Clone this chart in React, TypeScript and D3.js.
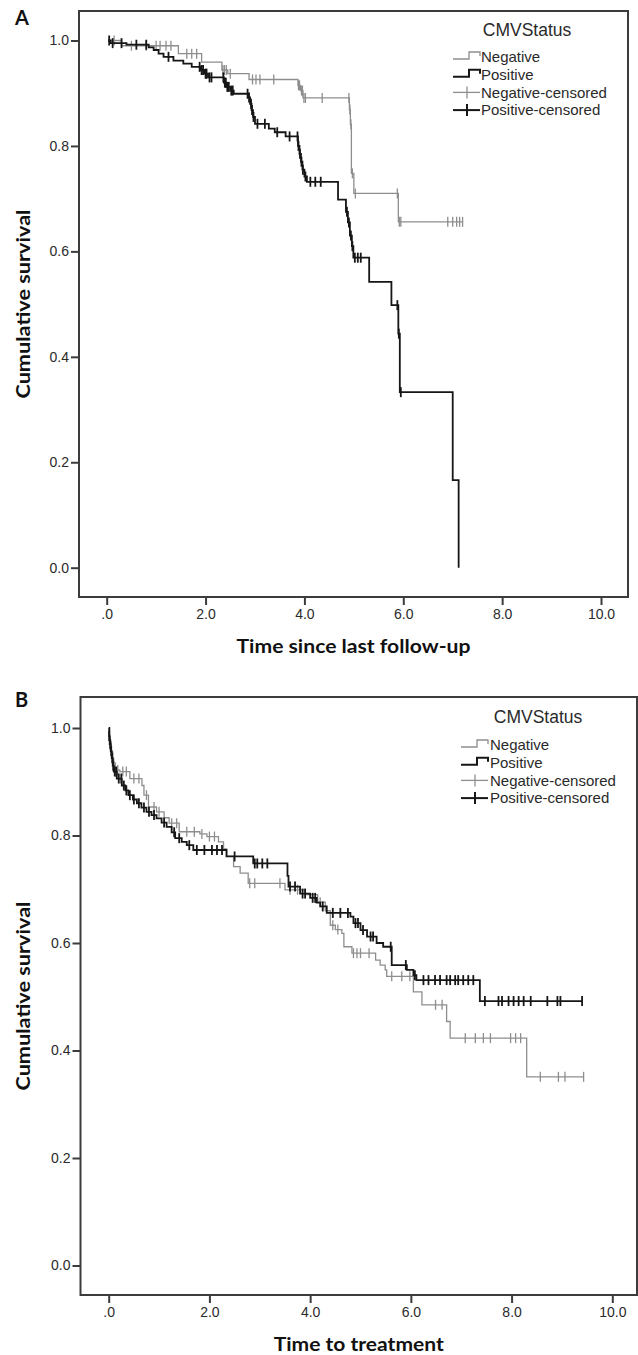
import React, { useEffect, useRef } from 'react';
import * as d3 from 'd3';

// axis ticks
const timeTicks = [0, 2, 4, 6, 8, 10];
const timeTickLabels = ['.0', '2.0', '4.0', '6.0', '8.0', '10.0'];
const survTicks = [0, 0.2, 0.4, 0.6, 0.8, 1.0];
const survTickLabels = ['0.0', '0.2', '0.4', '0.6', '0.8', '1.0'];
const legendTitle = 'CMVStatus';
const legendLabels = ['Negative', 'Positive', 'Negative-censored', 'Positive-censored'];

// panel A: time since last follow-up
const aNegTimes = [0.3, 1.45, 1.92, 2.33, 2.45, 2.88, 3.87, 3.92, 3.97, 4.91, 4.93, 4.95, 5.0, 5.9];
const aNegSurv = [0.99, 0.975, 0.959, 0.944, 0.937, 0.926, 0.915, 0.905, 0.891, 0.869, 0.841, 0.748, 0.71, 0.656];
const aNegCensored = [0.15, 0.5, 0.8, 1.0, 1.08, 1.2, 1.3, 1.62, 1.72, 1.82, 2.35, 2.38, 2.42, 2.5, 2.95, 3.02, 3.1,
  3.38, 3.88, 3.9, 3.94, 3.96, 3.99, 4.02, 4.36, 4.9, 4.92, 4.94, 4.97, 5.03, 5.88, 5.92, 5.95, 6.9, 7.0, 7.08, 7.14, 7.2];
const aPosTimes = [0.08, 0.4, 0.85, 0.95, 1.05, 1.15, 1.35, 1.55, 1.72, 1.9, 1.98, 2.05, 2.37, 2.42, 2.5, 2.57, 2.86, 2.9,
  2.93, 2.96, 3.0, 3.28, 3.4, 3.62, 3.87, 3.9, 3.93, 3.96, 4.0, 4.05, 4.68, 4.84, 4.88, 4.92, 4.96, 4.99, 5.31, 5.76, 5.9,
  5.93, 7.0, 7.12];
const aPosSurv = [0.995, 0.992, 0.987, 0.982, 0.975, 0.969, 0.962, 0.956, 0.95, 0.944, 0.937, 0.93, 0.92, 0.912, 0.905,
  0.899, 0.892, 0.88, 0.868, 0.855, 0.842, 0.833, 0.826, 0.818, 0.8, 0.785, 0.77, 0.755, 0.742, 0.732, 0.698, 0.675, 0.655,
  0.63, 0.61, 0.588, 0.542, 0.498, 0.444, 0.333, 0.166, 0.0];
const aPosCensored = [0.05, 0.12, 0.3, 0.6, 0.8, 1.25, 1.88, 1.92, 1.95, 2.0, 2.02, 2.08, 2.12, 2.36, 2.39, 2.41, 2.44,
  2.47, 2.52, 2.55, 2.85, 2.88, 2.92, 2.94, 2.97, 3.05, 3.2, 3.45, 3.7, 3.86, 3.88, 3.91, 3.94, 3.97, 4.02, 4.12, 4.22,
  4.33, 4.86, 4.9, 4.94, 4.97, 5.02, 5.08, 5.14, 5.88, 5.91, 5.95];

// panel B: time to treatment
const bNegTimes = [0.02, 0.05, 0.08, 0.13, 0.22, 0.42, 0.66, 0.7, 0.79, 0.95, 1.1, 1.2, 1.4, 1.81, 1.95, 2.18, 2.28, 2.34,
  2.48, 2.61, 2.77, 3.5, 3.9, 4.15, 4.3, 4.4, 4.5, 4.63, 4.67, 4.83, 5.3, 5.39, 5.49, 5.52, 6.05, 6.22, 6.71, 6.78, 8.3];
const bNegSurv = [0.975, 0.955, 0.935, 0.922, 0.919, 0.906, 0.893, 0.875, 0.853, 0.844, 0.833, 0.823, 0.807, 0.803, 0.798,
  0.788, 0.775, 0.761, 0.742, 0.73, 0.711, 0.699, 0.69, 0.676, 0.66, 0.633, 0.625, 0.618, 0.593, 0.581, 0.568, 0.559, 0.55,
  0.538, 0.509, 0.485, 0.454, 0.423, 0.351];
const bNegCensored = [0.03, 0.1, 0.18, 0.28, 0.35, 0.5, 0.6, 0.75, 0.9, 1.0, 1.25, 1.35, 1.55, 1.7, 1.85, 2.0, 2.1, 2.8,
  2.9, 3.4, 3.6, 3.75, 4.2, 4.45, 4.55, 4.86, 4.93, 5.0, 5.17, 5.62, 5.82, 5.98, 6.49, 6.62, 7.08, 7.28, 7.44, 7.58, 7.98,
  8.08, 8.18, 8.57, 8.93, 9.06, 9.43];
const bPosTimes = [0.01, 0.02, 0.04, 0.06, 0.08, 0.1, 0.16, 0.26, 0.33, 0.39, 0.48, 0.56, 0.65, 0.75, 0.85, 0.95, 1.05,
  1.15, 1.25, 1.32, 1.45, 1.55, 1.68, 2.34, 2.87, 3.55, 3.57, 3.8, 4.0, 4.13, 4.2, 4.33, 4.8, 4.86, 5.0, 5.13, 5.32, 5.45,
  5.62, 5.92, 6.05, 6.11, 7.37];
const bPosSurv = [0.985, 0.97, 0.957, 0.944, 0.93, 0.919, 0.906, 0.893, 0.884, 0.875, 0.867, 0.86, 0.852, 0.844, 0.838,
  0.832, 0.824, 0.816, 0.806, 0.795, 0.788, 0.782, 0.773, 0.761, 0.748, 0.725, 0.705, 0.692, 0.684, 0.675, 0.668, 0.656,
  0.649, 0.637, 0.624, 0.612, 0.6, 0.593, 0.559, 0.55, 0.54, 0.531, 0.492];
const bPosCensored = [0.01, 0.03, 0.05, 0.07, 0.09, 0.12, 0.15, 0.2, 0.25, 0.3, 0.35, 0.42, 0.5, 0.6, 0.7, 0.8, 0.9, 1.1,
  1.3, 1.4, 1.6, 1.75, 1.9, 2.05, 2.15, 2.25, 2.5, 2.9, 2.95, 3.05, 3.15, 3.6, 3.7, 3.85, 3.9, 4.05, 4.1, 4.25, 4.45, 4.6,
  4.75, 4.9, 4.95, 5.05, 5.2, 5.25, 5.6, 5.9, 6.08, 6.25, 6.35, 6.48, 6.58, 6.71, 6.78, 6.88, 6.94, 7.04, 7.14, 7.24, 7.47,
  7.74, 7.81, 7.94, 8.04, 8.14, 8.24, 8.38, 8.71, 8.91, 8.97, 9.4];

const GRAY = '#8e8e8e';
const BLACK = '#161616';
const FRAME = '#3c3c3c';
const TEXT = '#2a2a2a';
const TICKFONT = '"Liberation Sans", Arial, sans-serif';
const TITLEFONT = 'Lato, "Open Sans", sans-serif';

const panels = [
  {
    label: 'A', labelY: 25, xTitle: 'Time since last follow-up', xTitleW: 234,
    frame: { l: 79, t: 11, r: 628, b: 597 }, xRange: [106.7, 601], yRange: [567.7, 40.5],
    legend: { titleX: 527, titleY: 30, symX: 453, textX: 481, itemY: 57 },
    series: [
      { times: aNegTimes, surv: aNegSurv, censored: aNegCensored, start: 0.03, color: GRAY, w: 1.3 },
      { times: aPosTimes, surv: aPosSurv, censored: aPosCensored, start: 0.03, color: BLACK, w: 1.8 },
    ],
  },
  {
    label: 'B', labelY: 707, xTitle: 'Time to treatment', xTitleW: 170,
    frame: { l: 80.5, t: 697, r: 637, b: 1295 }, xRange: [108.7, 612.3], yRange: [1265.5, 728],
    legend: { titleX: 538, titleY: 717, symX: 461, textX: 490, itemY: 745 },
    series: [
      { times: bNegTimes, surv: bNegSurv, censored: bNegCensored, start: 0, color: GRAY, w: 1.3 },
      { times: bPosTimes, surv: bPosSurv, censored: bPosCensored, start: 0, color: BLACK, w: 1.8 },
    ],
  },
];

function drawPanel(svg: any, p: any) {
  const g = svg.append('g');
  const x = d3.scaleLinear().domain([0, 10]).range(p.xRange);
  const y = d3.scaleLinear().domain([0, 1]).range(p.yRange);
  const f = p.frame;

  // frame (plot box)
  g.append('rect')
    .attr('x', f.l).attr('y', f.t)
    .attr('width', f.r - f.l).attr('height', f.b - f.t)
    .attr('fill', 'none').attr('stroke', FRAME).attr('stroke-width', 2);

  const yAxis = d3.axisLeft(y).tickValues(survTicks).tickSize(8).tickPadding(2)
    .tickFormat((d: any, i: number) => survTickLabels[i]);
  const ya = g.append('g').attr('transform', `translate(${f.l},0)`).call(yAxis);
  const xAxis = d3.axisBottom(x).tickValues(timeTicks).tickSize(8).tickPadding(4)
    .tickFormat((d: any, i: number) => timeTickLabels[i]);
  const xa = g.append('g').attr('transform', `translate(0,${f.b})`).call(xAxis);
  [ya, xa].forEach(a => {
    a.select('.domain').remove();
    a.selectAll('line').attr('stroke', FRAME).attr('stroke-width', 2);
    a.selectAll('text').attr('fill', TEXT).attr('font-size', 14).attr('font-family', TICKFONT);
  });

  // curves
  const line = d3.line<[number, number]>()
    .x(d => x(d[0])).y(d => y(d[1]))
    .curve(d3.curveStepAfter);
  p.series.forEach((s: any) => {
    const pts: [number, number][] = [[s.start, 1]];
    s.times.forEach((t: number, i: number) => pts.push([t, s.surv[i]]));
    const lastT = Math.max(s.times[s.times.length - 1], d3.max(s.censored) as number);
    pts.push([lastT, s.surv[s.surv.length - 1]]);
    g.append('path').attr('d', line(pts)).attr('fill', 'none')
      .attr('stroke', s.color).attr('stroke-width', s.w);

    const survAt = (t: number) => {
      let v = 1;
      s.times.forEach((tt: number, i: number) => { if (tt <= t) v = s.surv[i]; });
      return v;
    };
    g.append('g').selectAll('line').data(s.censored).enter().append('line')
      .attr('x1', (d: number) => x(d)).attr('x2', (d: number) => x(d))
      .attr('y1', (d: number) => y(survAt(d)) - 5).attr('y2', (d: number) => y(survAt(d)) + 5)
      .attr('stroke', s.color).attr('stroke-width', s.w);
  });

  // titles
  g.append('text').attr('x', 15).attr('y', p.labelY).text(p.label)
    .attr('font-family', TITLEFONT).attr('font-weight', 700).attr('font-size', 20).attr('fill', '#111');
  g.append('text').attr('x', (f.l + f.r) / 2).attr('y', f.b + 56).text(p.xTitle)
    .attr('text-anchor', 'middle').attr('font-family', TITLEFONT).attr('font-weight', 700)
    .attr('font-size', 18).attr('fill', '#111')
    .attr('textLength', p.xTitleW).attr('lengthAdjust', 'spacingAndGlyphs');
  const cy = (f.t + f.b) / 2;
  g.append('text').attr('transform', `translate(30,${cy}) rotate(-90)`).text('Cumulative survival')
    .attr('text-anchor', 'middle').attr('font-family', TITLEFONT).attr('font-weight', 700)
    .attr('font-size', 18).attr('fill', '#111')
    .attr('textLength', 189).attr('lengthAdjust', 'spacingAndGlyphs');

  // legend
  const L = p.legend;
  g.append('text').attr('x', L.titleX).attr('y', L.titleY).attr('dy', '0.35em').text(legendTitle)
    .attr('text-anchor', 'middle').attr('font-family', TICKFONT).attr('font-size', 17.5).attr('fill', TEXT);
  const colors = [GRAY, BLACK, GRAY, BLACK];
  const widths = [1.3, 2, 1.3, 2];
  legendLabels.forEach((lab, i) => {
    const cyi = L.itemY + i * 17.7;
    const it = g.append('g');
    if (i < 2) {
      it.append('path')
        .attr('d', `M${L.symX},${cyi + 2}H${L.symX + 16}V${cyi - 5}H${L.symX + 27}V${cyi - 1}`)
        .attr('fill', 'none').attr('stroke', colors[i]).attr('stroke-width', widths[i]);
    } else {
      it.append('line').attr('x1', L.symX).attr('x2', L.symX + 27).attr('y1', cyi).attr('y2', cyi)
        .attr('stroke', colors[i]).attr('stroke-width', widths[i]);
      it.append('line').attr('x1', L.symX + 14).attr('x2', L.symX + 14).attr('y1', cyi - 6).attr('y2', cyi + 6)
        .attr('stroke', colors[i]).attr('stroke-width', widths[i]);
    }
    it.append('text').attr('x', L.textX).attr('y', cyi).attr('dy', '0.35em').text(lab)
      .attr('font-family', TICKFONT).attr('font-size', 15).attr('fill', TEXT);
  });
}

export default function App() {
  const ref = useRef<SVGSVGElement>(null);
  useEffect(() => {
    const svg = d3.select(ref.current);
    svg.selectAll('*').remove();
    panels.forEach(p => drawPanel(svg, p));
  }, []);
  return (
    <svg ref={ref} width={638} height={1355}
      style={{ position: 'absolute', left: 0, top: 0, background: '#fff' }} />
  );
}
